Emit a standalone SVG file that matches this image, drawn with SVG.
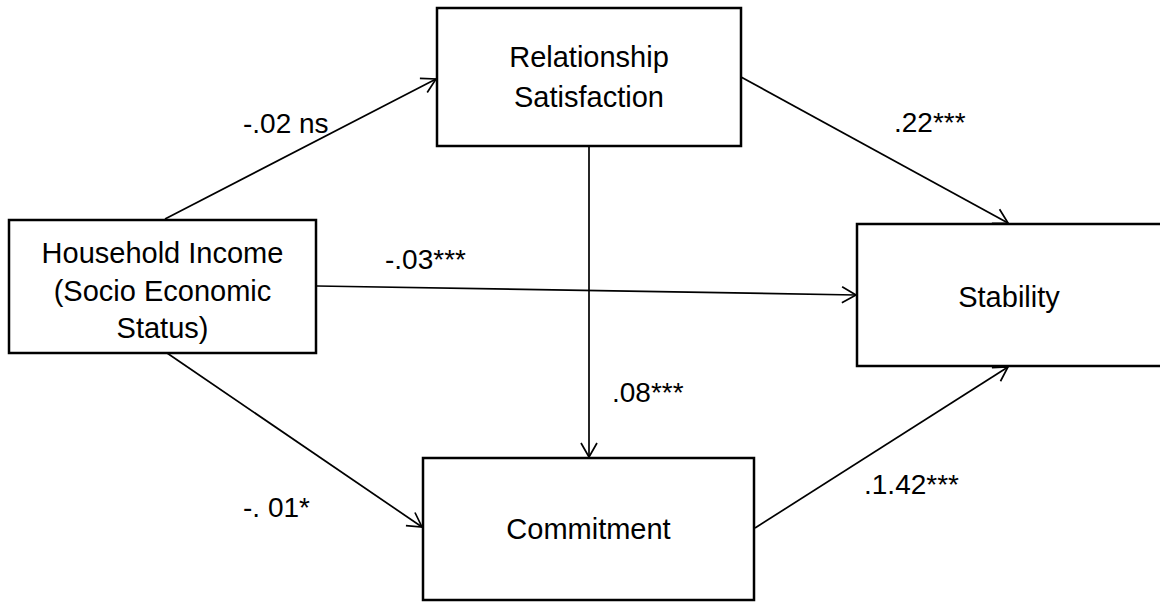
<svg xmlns="http://www.w3.org/2000/svg" width="1160" height="602" viewBox="0 0 1160 602">
<style>
.box{fill:#fff;stroke:#000;stroke-width:2.5}
.node{font-family:"Liberation Sans",Arial,sans-serif;font-size:29px;fill:#000;text-anchor:middle}
.lbl{font-family:"Liberation Sans",Arial,sans-serif;font-size:28px;fill:#000}
.edge{stroke:#000;stroke-width:1.7;fill:none;marker-end:url(#arr)}
</style>
<defs>
<marker id="arr" markerUnits="userSpaceOnUse" markerWidth="16" markerHeight="18" refX="14" refY="8" orient="auto" overflow="visible">
<path d="M0,0 L14,8 L0,16" fill="none" stroke="#000" stroke-width="1.7"/>
</marker>
</defs>
<rect width="1160" height="602" fill="#fff"/>
<g id="connectors">
<line class="edge" x1="165" y1="219" x2="436" y2="79"/>
<line class="edge" x1="741" y1="77" x2="1008" y2="223"/>
<line class="edge" x1="317" y1="286" x2="856" y2="295"/>
<line class="edge" x1="589" y1="146" x2="589" y2="457"/>
<line class="edge" x1="167" y1="353" x2="422" y2="527"/>
<line class="edge" x1="755" y1="528" x2="1008" y2="367"/>
</g>
<g id="labels">
<text class="lbl" x="243" y="133">-.02 ns</text>
<text class="lbl" x="894" y="132">.22***</text>
<text class="lbl" x="385" y="269">-.03***</text>
<text class="lbl" x="612" y="402">.08***</text>
<text class="lbl" x="243" y="517">-. 01*</text>
<text class="lbl" x="864" y="494">.1.42***</text>
</g>
<g id="relationship-satisfaction">
<rect class="box" x="437" y="8" width="304" height="138"/>
<text class="node" x="589" y="67">Relationship</text>
<text class="node" x="589" y="107">Satisfaction</text>
</g>
<g id="household-income">
<rect class="box" x="9" y="220" width="307" height="133"/>
<text class="node" x="162.5" y="263">Household Income</text>
<text class="node" x="162.5" y="301">(Socio Economic</text>
<text class="node" x="162.5" y="338">Status)</text>
</g>
<g id="stability">
<rect class="box" x="857" y="224" width="310" height="142"/>
<text class="node" x="1009" y="307">Stability</text>
</g>
<g id="commitment">
<rect class="box" x="423" y="458" width="331" height="142"/>
<text class="node" x="588.5" y="539">Commitment</text>
</g>
</svg>
